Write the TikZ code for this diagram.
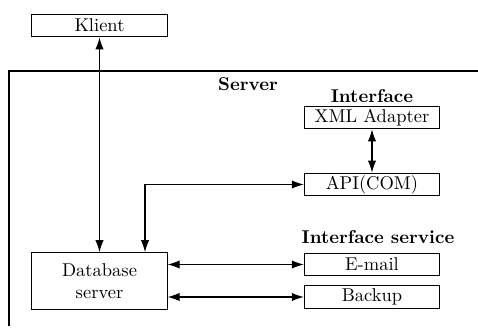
\documentclass[tikz,border=0pt]{standalone}
\usetikzlibrary{arrows.meta}
\tikzset{
  box/.style={draw, semithick, inner sep=0pt, minimum width=73pt, minimum height=12.2pt},
  conn/.style={{Latex[length=6.5pt,width=4.5pt]}-{Latex[length=6.5pt,width=4.5pt]}, semithick},
  title/.style={font=\bfseries}
}
\begin{document}
\begin{tikzpicture}[x=0.54pt, y=-0.54pt]
    \useasboundingbox (0,0) rectangle (478,329);

    % server frame
    \draw[semithick] (478,71) -- (9,71) -- (9,326);
    \node[title] (srv) at (248,84) {Server};
    \node[title] (ifc) at (372,96) {Interface};
    \node[title] (ifs) at (378,237) {Interface service};

    \node[box] (K) at (99.5,25.5) {Klient};
    \node[box] (XML) at (372,117.5) {XML Adapter};
    \node[box] (API) at (372,184.5) {API(COM)};
    \node[box] (MAIL) at (372,264.5) {E-mail};
    \node[box] (BAK) at (372,297) {Backup};
    \node[box, minimum height=30.5pt, align=center] (DB) at (99.5,281) {Database\\server};

    \coordinate (bend) at (145,184.5);

    \draw[conn] (K.south) -- (DB.north);
    \draw[conn] (XML) -- (API);
    \draw[conn] (API.west) -- (bend) -- (bend |- DB.north);
    \draw[conn] (DB.east |- MAIL) -- (MAIL.west);
    \draw[conn] (DB.east |- BAK) -- (BAK.west);
\end{tikzpicture}
\end{document}
